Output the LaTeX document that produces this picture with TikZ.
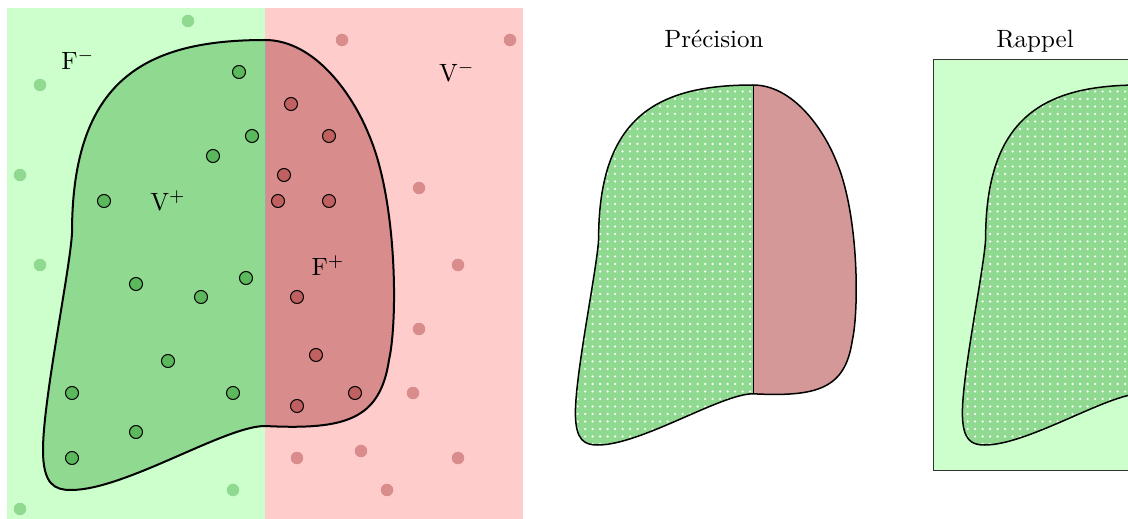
\documentclass[tikz,border=0pt]{standalone}
\usetikzlibrary{patterns}

\definecolor{vertclair}{HTML}{CCFFCC}
\definecolor{vertmoyen}{HTML}{90D990}
\definecolor{vertfonce}{HTML}{5CB85C}
\definecolor{rougeclair}{HTML}{FFCCCC}
\definecolor{rougemoyen}{HTML}{D98C8C}
\definecolor{rougefonce}{HTML}{C06060}
\definecolor{rougeprec}{HTML}{D59898}

%%% contour de la patate, origine en haut de la separation
\newcommand{\patate}{(0,0) .. controls (-120,0) and (-193,40) .. (-193,193)
  .. controls (-195,230) and (-222,360) .. (-222,410)
  .. controls (-222,445) and (-210,450) .. (-194,450)
  .. controls (-140,450) and (-40,386) .. (0,386)
  .. controls (80,390) and (115,380) .. (124,320)
  .. controls (133,280) and (132,160) .. (104,95)
  .. controls (88,55) and (50,0) .. (0,0) -- cycle}

\tikzset{
  ptint/.style={draw=black, thin},
  pointille/.style={pattern=dots, pattern color=white}
}

\begin{document}
\begin{tikzpicture}[x=0.4pt,y=-0.4pt]
\clip (0,0) rectangle (1128,519);

%%%%%%%%% fond
\fill[vertclair] (7,8) rectangle (265,519);
\fill[rougeclair] (265,8) rectangle (523,519);

%%%%%%%%% patate gauche
\begin{scope}[shift={(265,40)}]
  \begin{scope}
    \clip (-300,-10) rectangle (0,500);
    \fill[vertmoyen] \patate;
  \end{scope}
  \begin{scope}
    \clip (0,-10) rectangle (300,500);
    \fill[rougemoyen] \patate;
  \end{scope}
  \draw[black!35, line width=0.4pt] (0,0) -- (0,386);
  \draw[thick] \patate;
\end{scope}

%%%%%%%%% points hors patate
\foreach \x/\y in {188/21,40/85,20/175,40/265,233/490,20/509}
  \fill[vertmoyen] (\x,\y) circle (2.5pt);
\foreach \x/\y in {342/40,510/40,419/188,458/265,419/329,413/393,297/458,361/451,458/458,387/490}
  \fill[rougemoyen] (\x,\y) circle (2.5pt);

%%%%%%%%% points dans la patate
\foreach \x/\y in {239/72,252/136,213/156,104/201,136/284,246/278,201/297,168/361,72/393,233/393,136/432,72/458}
  \filldraw[vertfonce, ptint] (\x,\y) circle (2.6pt);
\foreach \x/\y in {291/104,329/136,284/175,278/201,329/201,297/297,316/355,355/393,297/406}
  \filldraw[rougefonce, ptint] (\x,\y) circle (2.6pt);

\node (fneg) at (78,60) {F$^{-}$};
\node (vpos) at (168,201) {V$^{+}$};
\node (fpos) at (328,266) {F$^{+}$};
\node (vneg) at (457,72) {V$^{-}$};

%%%%%%%%% precision
\node[anchor=base] (prec) at (714,47.5) {Précision};
\begin{scope}[shift={(753,85)}, scale=0.8]
  \begin{scope}
    \clip (-300,-10) rectangle (0,500);
    \fill[vertmoyen] \patate;
    \fill[pointille] \patate;
  \end{scope}
  \begin{scope}
    \clip (0,-10) rectangle (300,500);
    \fill[rougeprec] \patate;
  \end{scope}
  \draw (0,0) -- (0,386);
  \draw[semithick] \patate;
\end{scope}

%%%%%%%%% rappel
\node[anchor=base] (rapp) at (1035,47.5) {Rappel};
\filldraw[vertclair, draw=black!80] (933,60) rectangle (1139,470);
\begin{scope}[shift={(1140,85)}, scale=0.8]
  \begin{scope}
    \clip (-300,-10) rectangle (0,500);
    \fill[vertmoyen] \patate;
    \fill[pointille] \patate;
    \draw[semithick] \patate;
  \end{scope}
\end{scope}

\end{tikzpicture}
\end{document}
